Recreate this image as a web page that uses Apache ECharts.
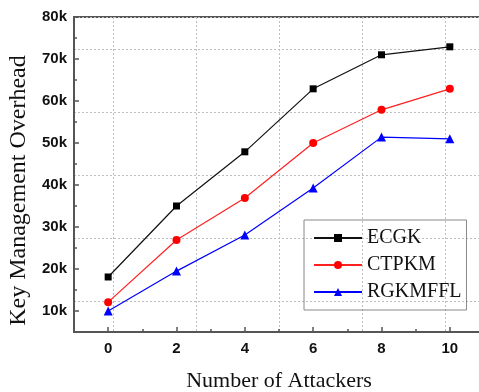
<!DOCTYPE html>
<html>
<head>
<meta charset="utf-8">
<script src="https://cdn.jsdelivr.net/npm/echarts@6/dist/echarts.min.js"></script>
<style>
html, body { margin: 0; padding: 0; background: #fff; }
#chart { width: 479px; height: 392px; }
</style>
</head>
<body>
<div id="chart"></div>
<script>
// data (values in k)
var attackers = [0, 2, 4, 6, 8, 10];
var ecgk = [18.1, 35, 47.9, 62.9, 71, 72.9];
var ctpkm = [12.1, 26.9, 36.9, 50, 57.9, 62.9];
var rgkmffl = [10, 19.5, 28.1, 39.3, 51.4, 51];

function pairs(vals) {
    return attackers.map(function (x, i) { return [x, vals[i]]; });
}

var axisColor = '#555';
var labelFont = { fontFamily: 'Liberation Sans', fontWeight: 'bold', fontSize: 15, color: '#111' };
var gridLine = { show: true, lineStyle: { color: '#bdbdbd', type: [2, 2], width: 1 } };
var off = { show: false };

var myChart = echarts.init(document.getElementById('chart'));

var option = {
    animation: false,
    grid: [
        { left: 74, top: 17, right: -5, bottom: 60, outerBoundsMode: 'none', show: true, borderColor: axisColor, borderWidth: 2 },
        { left: 113, top: 17, right: -5, bottom: 60, outerBoundsMode: 'none' },
        { left: 74, top: 17, right: -5, bottom: 91, outerBoundsMode: 'none' }
    ],
    legend: {
        orient: 'vertical',
        left: 304, top: 220,
        padding: [8, 5, 8, 9],
        borderColor: '#888', borderWidth: 1,
        itemWidth: 48, itemHeight: 10, itemGap: 7,
        textStyle: { fontFamily: 'Liberation Serif', fontSize: 20, color: '#111', lineHeight: 20 },
        data: ['ECGK', 'CTPKM', 'RGKMFFL']
    },
    xAxis: [
        {
            gridIndex: 0, type: 'value', min: -1, max: 11, splitNumber: 5,
            name: 'Number of Attackers', nameLocation: 'middle', nameGap: 38,
            nameTextStyle: { fontFamily: 'Liberation Serif', fontSize: 22, color: '#111' },
            axisLine: { onZero: false, lineStyle: { color: axisColor, width: 2 } },
            axisTick: { inside: true, length: 5, lineStyle: { color: axisColor, width: 1.5 } },
            axisLabel: Object.assign({ margin: 9, formatter: function (v) {
                return (v >= 0 && v <= 10 && v % 2 === 0) ? v : '';
            } }, labelFont),
            splitLine: off
        },
        {
            // minor ticks at odd numbers
            gridIndex: 0, type: 'value', min: -1, max: 11, interval: 2, position: 'bottom',
            axisLine: { show: false, onZero: false }, axisLabel: off, splitLine: off,
            axisTick: { inside: true, length: 3, lineStyle: { color: axisColor, width: 1.5 } }
        },
        {
            gridIndex: 1, type: 'value', min: 0, max: 4.47, interval: 1,
            axisLine: off, axisTick: off, axisLabel: off, splitLine: gridLine
        },
        {
            gridIndex: 2, type: 'value', min: 0, max: 1,
            axisLine: off, axisTick: off, axisLabel: off, splitLine: off
        }
    ],
    yAxis: [
        {
            gridIndex: 0, type: 'value', min: 5, max: 80, splitNumber: 7,
            name: 'Key Management Overhead', nameLocation: 'middle', nameGap: 38,
            nameTextStyle: { fontFamily: 'Liberation Serif', fontSize: 24, color: '#111', padding: [0, 32, 0, 0] },
            axisLine: { onZero: false, lineStyle: { color: axisColor, width: 2 } },
            axisTick: { inside: true, length: 5, lineStyle: { color: axisColor, width: 1.5 } },
            axisLabel: Object.assign({ margin: 7, formatter: function (v) {
                return (v >= 10 && v % 10 === 0) ? v + 'k' : '';
            } }, labelFont),
            splitLine: off
        },
        {
            gridIndex: 0, type: 'value', min: 5, max: 80, interval: 10, position: 'left',
            axisLine: { show: false, onZero: false }, axisLabel: off, splitLine: off,
            axisTick: { inside: true, length: 3, lineStyle: { color: axisColor, width: 1.5 } }
        },
        {
            gridIndex: 1, type: 'value', min: 0, max: 1,
            axisLine: off, axisTick: off, axisLabel: off, splitLine: off
        },
        {
            gridIndex: 2, type: 'value', min: 0, max: 4.508, interval: 1,
            axisLine: off, axisTick: off, axisLabel: off, splitLine: gridLine
        }
    ],
    series: [
        {
            name: 'ECGK', type: 'line', xAxisIndex: 0, yAxisIndex: 0,
            data: pairs(ecgk), symbol: 'rect', symbolSize: 7,
            lineStyle: { color: '#111', width: 1.2 }, itemStyle: { color: '#000' }
        },
        {
            name: 'CTPKM', type: 'line', xAxisIndex: 0, yAxisIndex: 0,
            data: pairs(ctpkm), symbol: 'circle', symbolSize: 8,
            lineStyle: { color: '#ff2020', width: 1.2 }, itemStyle: { color: '#ff0000' }
        },
        {
            name: 'RGKMFFL', type: 'line', xAxisIndex: 0, yAxisIndex: 0,
            data: pairs(rgkmffl), symbol: 'triangle', symbolSize: 9,
            lineStyle: { color: '#0000ff', width: 1.2 }, itemStyle: { color: '#0000ff' }
        }
    ]
};

myChart.setOption(option);
</script>
</body>
</html>
